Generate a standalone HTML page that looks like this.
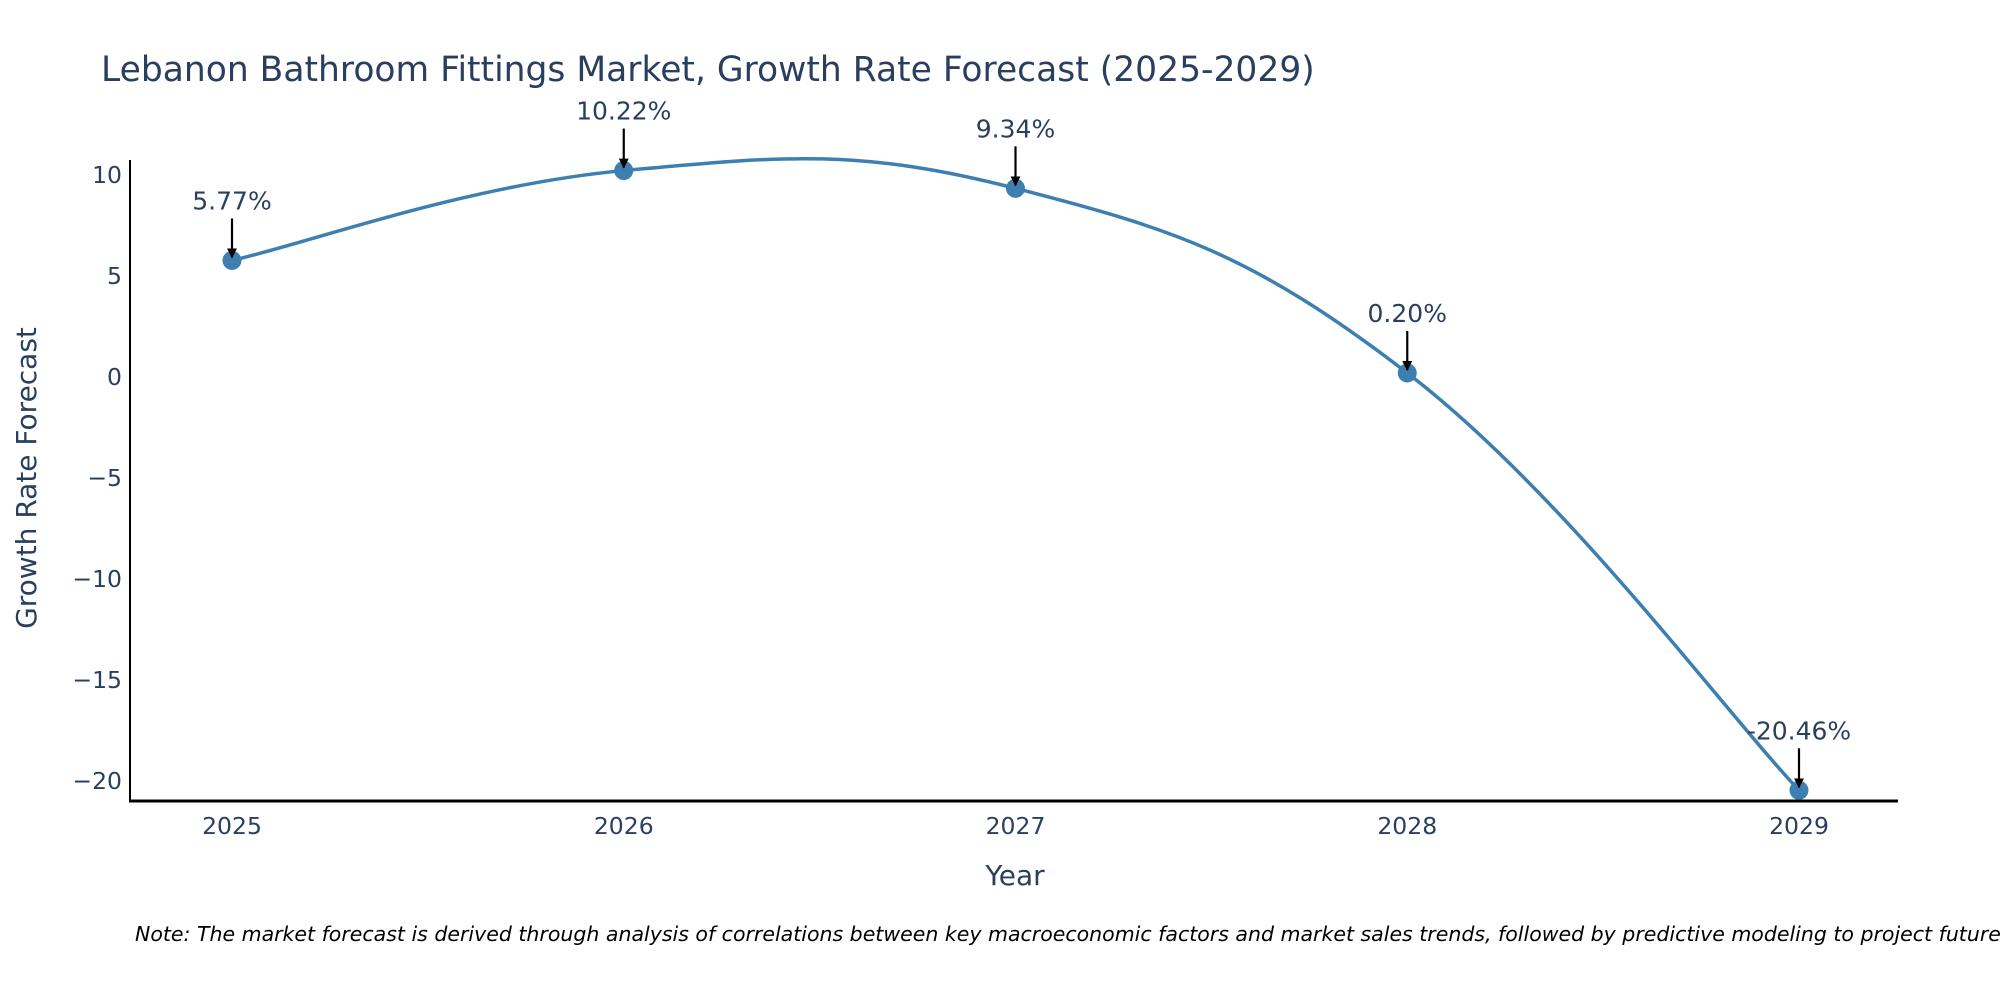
<!DOCTYPE html>
<html><head><meta charset="utf-8"><style>
html,body{margin:0;padding:0;background:#fff;}
svg{display:block;font-family:"DejaVu Sans","Liberation Sans",sans-serif;}
</style></head><body>
<svg id="chart" width="2000" height="1000" viewBox="0 0 2000 1000">
<defs><marker id="ah" viewBox="0 0 10 10" refX="9" refY="5" markerWidth="4.5" markerHeight="4.5" orient="auto"><path d="M0,0 L10,5 L0,10 z" fill="#000"/></marker></defs>
<text x="101" y="81" font-size="34.5" fill="#2a3f5f">Lebanon Bathroom Fittings Market, Growth Rate Forecast (2025-2029)</text>
<g id="yticks"></g><g id="xticks"></g>
<line x1="130" y1="160" x2="130" y2="802" stroke="#000" stroke-width="2"/>
<line x1="129" y1="801" x2="1898" y2="801" stroke="#000" stroke-width="3"/>
<g id="plot"></g>
<text x="1015" y="885" font-size="28" fill="#2a3f5f" text-anchor="middle">Year</text>
<text transform="translate(36,478) rotate(-90)" font-size="28" fill="#2a3f5f" text-anchor="middle">Growth Rate Forecast</text>
<text x="135" y="941" font-size="20.5" font-style="italic" fill="#000">Note: The market forecast is derived through analysis of correlations between key macroeconomic factors and market sales trends, followed by predictive modeling to project future sales.</text>
</svg>
<script>
const years = [2025, 2026, 2027, 2028, 2029];
const values = [5.77, 10.22, 9.34, 0.20, -20.46];
const labels = ["5.77%", "10.22%", "9.34%", "0.20%", "-20.46%"];
const yTicks = [10, 5, 0, -5, -10, -15, -20];
const yTickLabels = ["10", "5", "0", "\u22125", "\u221210", "\u221215", "\u221220"];
const NS = "http://www.w3.org/2000/svg";
function xs(v){ return 232 + (v - 2025) * 391.75; }
function ys(v){ return 377 - v * 20.2; }
function mk(tag, attrs, parent){ const e = document.createElementNS(NS, tag); for (const k in attrs) e.setAttribute(k, attrs[k]); parent.appendChild(e); return e; }
const yt = document.getElementById('yticks'), xt = document.getElementById('xticks'), plot = document.getElementById('plot');
yTicks.forEach((t, i) => {
  const e = mk('text', {x: 122, y: ys(t) + 8, 'font-size': 23.5, fill: '#2a3f5f', 'text-anchor': 'end'}, yt);
  e.textContent = yTickLabels[i];
  
  
});
years.forEach(y => {
  const e = mk('text', {x: xs(y), y: 834, 'font-size': 23.5, fill: '#2a3f5f', 'text-anchor': 'middle'}, xt);
  e.textContent = String(y);
  
  
});
const pts = years.map((y, i) => [xs(y), ys(values[i])]);
let d = 'M' + pts[0][0] + ',' + pts[0][1];
for (let i = 0; i < pts.length - 1; i++) {
  const p0 = pts[Math.max(0, i - 1)], p1 = pts[i], p2 = pts[i + 1], p3 = pts[Math.min(pts.length - 1, i + 2)];
  const t = 1/5;
  const c1 = [p1[0] + (p2[0] - p0[0]) * t, p1[1] + (p2[1] - p0[1]) * t];
  const c2 = [p2[0] - (p3[0] - p1[0]) * t, p2[1] - (p3[1] - p1[1]) * t];
  d += ' C' + c1 + ' ' + c2 + ' ' + p2;
}
const line = mk('path', {d: d, fill: 'none', stroke: '#3d7fb1', 'stroke-width': 3.5}, plot);


pts.forEach((p, i) => {
  const c = mk('circle', {cx: p[0], cy: p[1], r: 9.5, fill: '#3d7fb1'}, plot);
  
  
  const a = mk('line', {x1: p[0], y1: p[1] - 42, x2: p[0], y2: p[1] - 3, stroke: '#000', 'stroke-width': 2.2, 'marker-end': 'url(#ah)'}, plot);
  
  
  const tx = mk('text', {x: p[0], y: p[1] - 51, 'font-size': 25, fill: '#2a3f5f', 'text-anchor': 'middle'}, plot);
  tx.textContent = labels[i];
  
  
});
</script>
</body></html>
